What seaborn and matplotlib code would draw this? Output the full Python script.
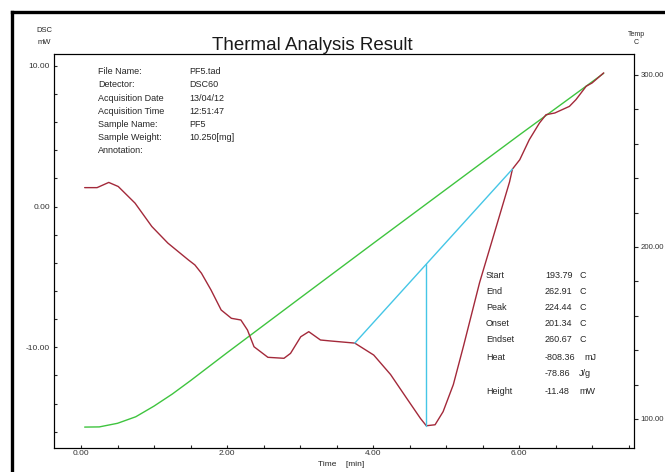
import matplotlib
matplotlib.use("Agg")
import numpy as np
import pandas as pd
import matplotlib.pyplot as plt
from matplotlib.lines import Line2D
from matplotlib.ticker import MultipleLocator, FixedLocator
from matplotlib import font_manager
import seaborn as sns

# DSC signal (mW) over time (min)
time_dsc = [0.05, 0.22, 0.38, 0.51, 0.74, 0.97, 1.19, 1.47, 1.56, 1.65, 1.78, 1.92,
            2.06, 2.19, 2.28, 2.37, 2.56, 2.78, 2.87, 3.01, 3.12, 3.28, 3.42, 3.75,
            4.01, 4.24, 4.46, 4.65, 4.73, 4.85, 4.96, 5.10, 5.24, 5.46, 5.69, 5.87,
            5.91, 6.01, 6.14, 6.28, 6.37, 6.49, 6.69, 6.78, 6.92, 7.00, 7.16]
dsc_mw = [1.34, 1.34, 1.71, 1.42, 0.24, -1.42, -2.60, -3.79, -4.15, -4.74, -5.92, -7.35,
          -7.94, -8.06, -8.77, -9.96, -10.71, -10.78, -10.43, -9.25, -8.89, -9.48, -9.55, -9.70,
          -10.55, -11.93, -13.61, -15.05, -15.57, -15.50, -14.57, -12.65, -9.90, -5.40, -1.40, 1.74,
          2.66, 3.32, 4.74, 5.93, 6.52, 6.64, 7.11, 7.59, 8.54, 8.77, 9.49]

# Sample temperature (C) over time (min)
time_temp = [0.05, 0.25, 0.50, 0.75, 1.00, 1.25, 1.50, 2.00, 3.00, 4.00, 5.00, 6.00, 7.00, 7.16]
temp_c = [95.3, 95.4, 97.5, 101.3, 107.5, 114.5, 122.3, 138.5, 170.3, 202.0, 233.5, 265.0, 296.0, 301.0]

# Peak analysis: baseline end points and peak height
baseline_time = [3.75, 5.91]
baseline_mw = [-9.70, 2.66]
peak_time = 4.73
peak_height = -11.48

result_labels = ["Start", "End", "Peak", "Onset", "Endset", "Heat", "", "Height"]
result_values = ["193.79", "262.91", "224.44", "201.34", "260.67", "-808.36", "-78.86", "-11.48"]
result_units = ["C", "C", "C", "C", "C", "mJ", "J/g", "mW"]

info_labels = ["File Name:", "Detector:", "Acquisition Date", "Acquisition Time",
               "Sample Name:", "Sample Weight:", "Annotation:"]
info_values = ["PF5.tad", "DSC60", "13/04/12", "12:51:47", "PF5", "10.250[mg]", ""]

time_ticks = [0, 2, 4, 6]
dsc_ticks = [-10, 0, 10]
temp_ticks = [100, 200, 300]

RED = "#a3293a"
GREEN = "#3fc43f"
CYAN = "#45c6e6"
TXT = "#262626"

sns.set_style("white")
plt.rcParams["font.family"] = ["Liberation Sans", "DejaVu Sans"]
names = {f.name for f in font_manager.fontManager.ttflist}
if "Liberation Sans Narrow" in names:
    title_family, title_size = "Liberation Sans Narrow", 16.5
else:
    title_family, title_size = "Liberation Sans", 13.5

W, H = 665, 472
fig = plt.figure(figsize=(W / 100, H / 100), dpi=100)
fig.patch.set_facecolor("white")


def ftxt(x, y, s, **kw):
    kw.setdefault("color", TXT)
    kw.setdefault("va", "center")
    return fig.text(x / W, 1 - y / H, s, **kw)


ax = fig.add_axes([54 / W, 1 - 448 / H, 580 / W, 394 / H])
ax2 = ax.twinx()

# temperature programme
sns.lineplot(x=time_temp, y=temp_c, ax=ax2, color=GREEN, linewidth=1.0,
             sort=False, estimator=None, legend=False)
# DSC curve
sns.lineplot(x=time_dsc, y=dsc_mw, ax=ax, color=RED, linewidth=1.0,
             sort=False, estimator=None, legend=False)
# baseline and peak height marker
sns.lineplot(x=baseline_time, y=baseline_mw, ax=ax, color=CYAN, linewidth=1.0,
             sort=False, estimator=None, legend=False)
base_at_peak = float(np.interp(peak_time, baseline_time, baseline_mw))
sns.lineplot(x=[peak_time, peak_time], y=[base_at_peak, base_at_peak + peak_height],
             ax=ax, color=CYAN, linewidth=1.0, sort=False, estimator=None, legend=False)
ax.set_zorder(ax2.get_zorder() + 1)
ax.patch.set_visible(False)

ax.set_xlim(-0.37, 7.575)
ax.set_ylim(-17.15, 10.83)
ax2.set_ylim(83.14, 312.2)

ax.xaxis.set_major_locator(FixedLocator(time_ticks))
ax.set_xticklabels([f"{v:.2f}" for v in time_ticks])
ax.xaxis.set_minor_locator(MultipleLocator(0.5))
ax.yaxis.set_major_locator(FixedLocator(dsc_ticks))
ax.set_yticklabels([f"{v:.2f}" for v in dsc_ticks])
ax.yaxis.set_minor_locator(MultipleLocator(2))
ax2.yaxis.set_major_locator(FixedLocator(temp_ticks))
ax2.set_yticklabels([f"{v:.2f}" for v in temp_ticks])
ax2.yaxis.set_minor_locator(MultipleLocator(20))

ax.tick_params(axis="x", which="both", direction="in", length=2.5, width=0.8,
               pad=1.5, labelsize=6, labelcolor="#333333", bottom=True, top=False)
ax.tick_params(axis="y", which="both", direction="in", length=2.5, width=0.8,
               pad=3, labelsize=6, labelcolor="#333333", left=True)
ax2.tick_params(axis="y", which="both", direction="out", length=3, width=0.8,
                pad=1.5, labelsize=5.6, labelcolor="#333333", right=True)
ax.set_xlabel("")
ax.set_ylabel("")
ax2.set_ylabel("")
for a in (ax, ax2):
    for sp in a.spines.values():
        sp.set_color("black")
        sp.set_linewidth(0.8)
        sp.set_visible(True)

# outer frame
fig.add_artist(Line2D([12 / W, 12 / W], [0, 1 - 12 / H], transform=fig.transFigure,
                      color="black", lw=2.4, solid_capstyle="projecting"))
fig.add_artist(Line2D([12 / W, 1], [1 - 12 / H, 1 - 12 / H], transform=fig.transFigure,
                      color="black", lw=2.4, solid_capstyle="projecting"))

# titles and axis captions
ftxt(312.5, 50, "Thermal Analysis Result", ha="center", va="baseline",
     fontsize=title_size, family=title_family, color="#1a1a1a")
ftxt(44, 31, "DSC", ha="center", fontsize=5.5)
ftxt(44, 42, "mW", ha="center", fontsize=5.5)
ftxt(636, 34, "Temp", ha="center", fontsize=5)
ftxt(636, 42, "C", ha="center", fontsize=5)
ftxt(341, 465, "Time    [min]", ha="center", fontsize=6)

# acquisition details
for i, (lab, val) in enumerate(zip(info_labels, info_values)):
    y = 71.7 + i * 13.2
    ftxt(98, y, lab, ha="left", fontsize=6.5)
    if val:
        ftxt(189, y, val, ha="left", fontsize=6.5)

# peak analysis results
result_rows = [276, 292, 307, 323, 339, 357, 373, 392]
unit_x = [580, 580, 580, 580, 580, 584, 579, 579]
for lab, val, unit, y, ux in zip(result_labels, result_values, result_units, result_rows, unit_x):
    if lab:
        ftxt(486, y, lab, ha="left", fontsize=6.5)
    ftxt(545, y, val, ha="left", fontsize=6.5)
    ftxt(ux, y, unit, ha="left", fontsize=6.5)

fig.savefig("out.png", dpi=100, facecolor="white")
